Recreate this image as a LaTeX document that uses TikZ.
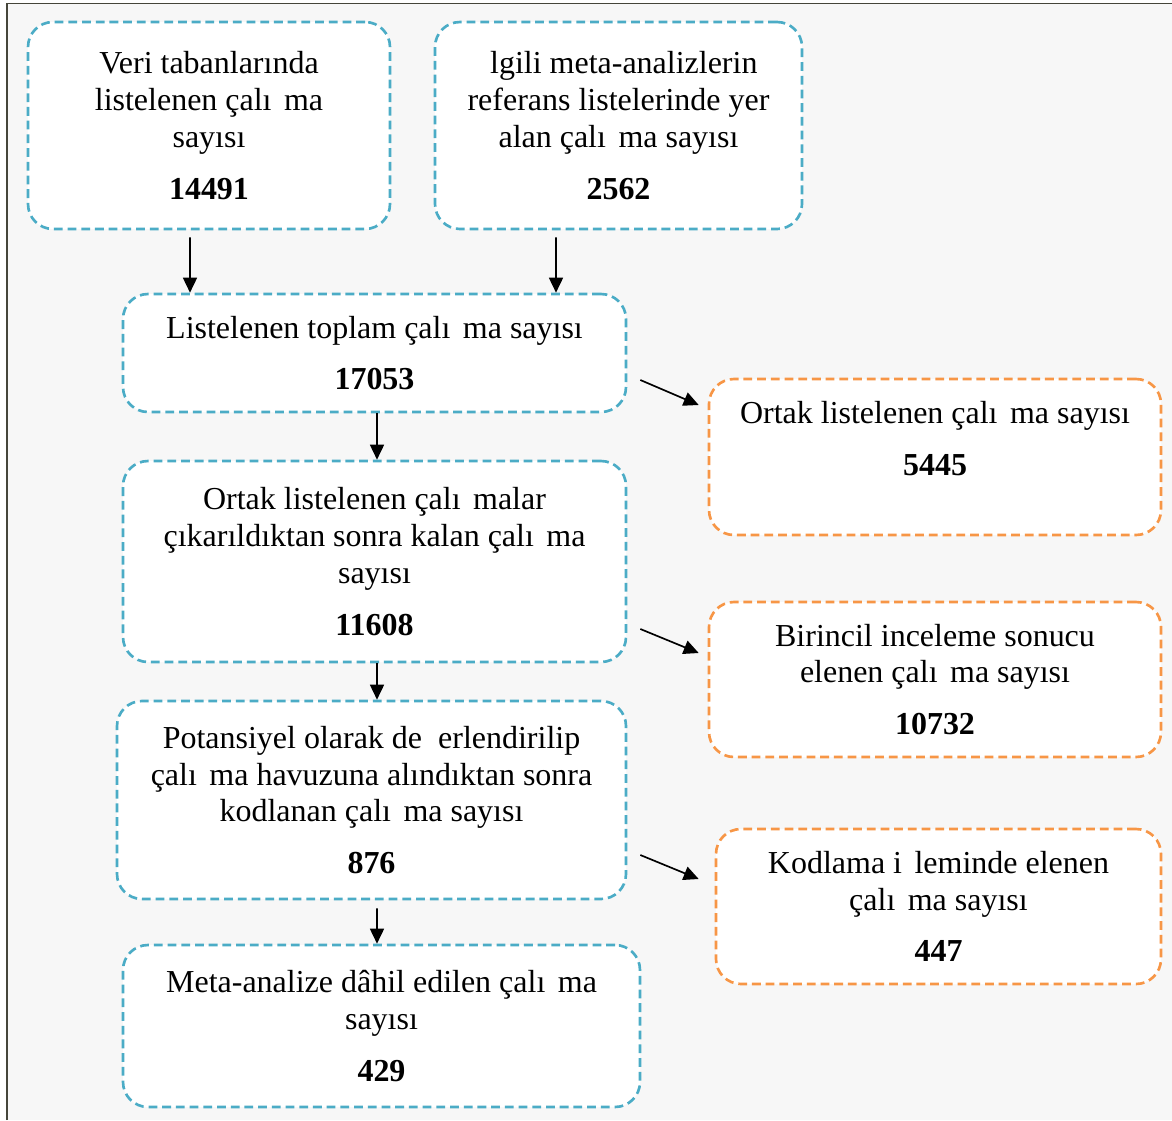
\documentclass[tikz,border=0pt]{standalone}
\usepackage{fontspec}
\setmainfont{Liberation Serif}
\usetikzlibrary{arrows.meta}

\definecolor{boxblue}{HTML}{4BACC6}
\definecolor{boxorange}{HTML}{F79646}
\definecolor{pagegray}{HTML}{F7F7F7}
\definecolor{frameline}{HTML}{45453A}
\newcommand{\nochar}[1][0.39em]{\hspace*{#1}}

\begin{document}
\begin{tikzpicture}[>={Triangle[length=0.3cm,width=0.28cm]},
    font=\fontsize{18.2}{21}\selectfont,
    stepbox/.style={draw=boxblue, line width=1.5pt, dash pattern=on 5pt off 2.8pt,
        rounded corners=0.5cm, fill=white, align=center, inner sep=0pt},
    outbox/.style={stepbox, draw=boxorange},
    flow/.style={->, line width=0.95pt, draw=black}]

        % Page background
        \useasboundingbox (0,0) rectangle (23.44,-22.4);
        \fill[pagegray] (0.14,-0.07) rectangle (23.44,-22.4);
        \draw[frameline, line width=0.8pt] (0.14,-22.4) -- (0.14,-0.07) -- (23.44,-0.07);

        % Main flow
        \node[stepbox, minimum width=7.24cm, minimum height=4.14cm] (veri) at (4.18,-2.51)
            {Veri tabanlarında\\listelenen çalı\nochar ma\\sayısı\\[8.5pt]\textbf{14491}};
        \node[stepbox, minimum width=7.34cm, minimum height=4.14cm] (ilgili) at (12.37,-2.51)
            {\nochar[0.33em]lgili meta-analizlerin\\referans listelerinde yer\\alan çalı\nochar ma sayısı\\[8.5pt]\textbf{2562}};
        \node[stepbox, minimum width=10.06cm, minimum height=2.36cm] (toplam) at (7.49,-7.06)
            {Listelenen toplam çalı\nochar ma sayısı\\[8.5pt]\textbf{17053}};
        \node[stepbox, minimum width=10.06cm, minimum height=4.02cm] (kalan) at (7.49,-11.23)
            {Ortak listelenen çalı\nochar malar\\çıkarıldıktan sonra kalan çalı\nochar ma\\sayısı\\[8.5pt]\textbf{11608}};
        \node[stepbox, minimum width=10.18cm, minimum height=3.96cm] (potansiyel) at (7.43,-16.00)
            {Potansiyel olarak de\nochar[0.5em]erlendirilip\\çalı\nochar ma havuzuna alındıktan sonra\\kodlanan çalı\nochar ma sayısı\\[8.5pt]\textbf{876}};
        \node[stepbox, minimum width=10.34cm, minimum height=3.24cm] (dahil) at (7.63,-20.52)
            {Meta-analize dâhil edilen çalı\nochar ma\\sayısı\\[8.5pt]\textbf{429}};

        % Excluded studies
        \node[outbox, minimum width=9.04cm, minimum height=3.12cm] (ortak) at (18.70,-9.14)
            {Ortak listelenen çalı\nochar ma sayısı\\[8.5pt]\textbf{5445}\\\mbox{}};
        \node[outbox, minimum width=9.04cm, minimum height=3.10cm] (birincil) at (18.70,-13.59)
            {Birincil inceleme sonucu\\elenen çalı\nochar ma sayısı\\[8.5pt]\textbf{10732}};
        \node[outbox, minimum width=8.90cm, minimum height=3.10cm] (kodlama) at (18.77,-18.13)
            {Kodlama i\nochar leminde elenen\\çalı\nochar ma sayısı\\[8.5pt]\textbf{447}};

        % Downward arrows
        \draw[flow] ([xshift=-0.38cm,yshift=-0.14cm]veri.south) -- ([xshift=-3.69cm]toplam.north);
        \draw[flow] ([xshift=-1.25cm,yshift=-0.14cm]ilgili.south) -- ([xshift=3.63cm]toplam.north);
        \draw[flow] ([xshift=0.05cm]toplam.south) -- ([xshift=0.05cm]toplam.south |- kalan.north);
        \draw[flow] ([xshift=0.05cm]kalan.south) -- ([xshift=0.05cm]kalan.south |- potansiyel.north);
        \draw[flow] ([xshift=0.11cm,yshift=-0.16cm]potansiyel.south) -- ([xshift=-0.09cm]dahil.north);

        % Side arrows
        \draw[flow] ([xshift=0.26cm,yshift=-0.54cm]toplam.east) -- ([xshift=-0.18cm,yshift=1.04cm]ortak.west);
        \draw[flow] ([xshift=0.26cm,yshift=-1.35cm]kalan.east) -- ([xshift=-0.18cm,yshift=0.53cm]birincil.west);
        \draw[flow] ([xshift=0.26cm,yshift=-1.1cm]potansiyel.east) -- ([xshift=-0.32cm,yshift=0.55cm]kodlama.west);

\end{tikzpicture}
\end{document}
